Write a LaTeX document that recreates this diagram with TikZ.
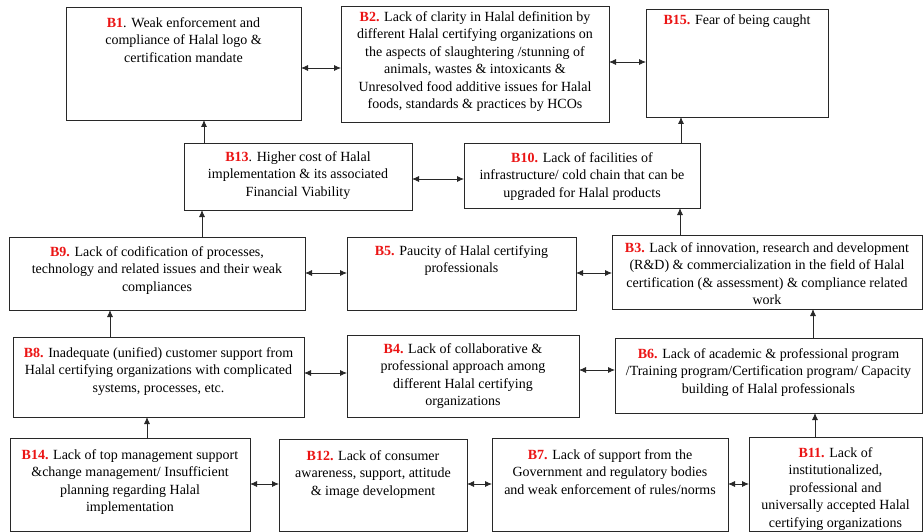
\documentclass[tikz,border=0pt]{standalone}
\usepackage{fontspec}
\setmainfont{Liberation Serif}
\usetikzlibrary{arrows.meta}
\definecolor{bred}{RGB}{235,20,20}
\definecolor{edge}{RGB}{40,40,40}
\newcommand\lb[1]{\textbf{\textcolor{bred}{#1}}}
% name, x1, y1, x2, y2, top kern, lines
\newcommand\hbx[7]{%
  \node[hbox, anchor=north west] (#1) at (#2,#3) {\vbox to \dimexpr#5pt-#3pt\relax{\kern#6pt\hbox to \dimexpr#4pt-#2pt\relax{\hss\begin{tabular}{@{}c@{}}#7\end{tabular}\hss}\vss}};}
\tikzset{
  hbox/.style={draw=edge, line width=0.8pt, inner sep=0pt, outer sep=0pt, fill=white,
    font=\fontsize{14}{17.5}\selectfont},
  link/.style={edge, line width=0.8pt, {Latex[length=7pt,width=6pt]}-{Latex[length=7pt,width=6pt]}},
  up/.style={edge, line width=0.8pt, -{Latex[length=7pt,width=6pt]}}
}
\begin{document}
\begin{tikzpicture}[x=1pt,y=-1pt]
\useasboundingbox[fill=white] (0,0) rectangle (924,532);
\hbx{B1}{66}{7}{301}{120}{8}{\lb{B1}. Weak enforcement and\\ compliance of Halal logo \&\\ certification mandate}
\hbx{B2}{341}{6}{609}{122}{3}{\lb{B2.} Lack of clarity in Halal definition by\\ different Halal certifying organizations on\\ the aspects of slaughtering /stunning of\\ animals, wastes \& intoxicants \&\\ Unresolved food additive issues for Halal\\ foods, standards \& practices by HCOs}
\hbx{B15}{646}{9}{828}{117}{3}{\lb{B15.} Fear of being caught}
\hbx{B13}{184}{143}{412}{210}{6}{\lb{B13}. Higher cost of Halal\\ implementation \& its associated\\ Financial Viability}
\hbx{B10}{464}{143}{700}{208}{7}{\lb{B10.} Lack of facilities of\\ infrastructure/ cold chain that can be\\ upgraded for Halal products}
\hbx{B9}{9}{237}{305}{310}{7}{\lb{B9.} Lack of codification of processes,\\ technology and related issues and their weak\\ compliances}
\hbx{B5}{347}{237}{576}{310}{6}{\lb{B5.} Paucity of Halal certifying\\ professionals}
\hbx{B3}{612}{235}{922}{309}{5}{\lb{B3.} Lack of innovation, research and development\\ (R\&D) \& commercialization in the field of Halal\\ certification (\& assessment) \& compliance related\\ work}
\hbx{B8}{13}{337}{304}{417}{8}{\lb{B8.} Inadequate (unified) customer support from\\ Halal certifying organizations with complicated\\ systems, processes, etc.}
\hbx{B4}{347}{335}{579}{417}{6}{\lb{B4.} Lack of collaborative \&\\ professional approach among\\ different Halal certifying\\ organizations}
\hbx{B6}{615}{338}{922}{413}{8}{\lb{B6.} Lack of academic \& professional program\\ /Training program/Certification program/ Capacity\\ building of Halal professionals}
\hbx{B14}{10}{438}{250}{531}{9}{\lb{B14.} Lack of top management support\\ \&change management/ Insufficient\\ planning regarding Halal\\ implementation}
\hbx{B12}{279}{439}{467}{531}{9}{\lb{B12.} Lack of consumer\\ awareness, support, attitude\\ \& image development}
\hbx{B7}{492}{438}{728}{531}{9}{\lb{B7.} Lack of support from the\\ Government and regulatory bodies\\ and weak enforcement of rules/norms}
\hbx{B11}{749}{437}{922}{531}{8}{\lb{B11.} Lack of\\ institutionalized,\\ professional and\\ universally accepted Halal\\ certifying organizations}
% horizontal links
\draw[link] (B1.east |- 0,68) -- (B2.west |- 0,68);
\draw[link] (B2.east |- 0,62) -- (B15.west |- 0,62);
\draw[link] (B13.east |- 0,179) -- (B10.west |- 0,179);
\draw[link] (B9.east |- 0,273) -- (B5.west |- 0,273);
\draw[link] (B5.east |- 0,273) -- (B3.west |- 0,273);
\draw[link] (B8.east |- 0,373) -- (B4.west |- 0,373);
\draw[link] (B4.east |- 0,370) -- (B6.west |- 0,370);
\draw[link] (B14.east |- 0,484) -- (B12.west |- 0,484);
\draw[link] (B12.east |- 0,484) -- (B7.west |- 0,484);
\draw[link] (B7.east |- 0,484) -- (B11.west |- 0,484);
% vertical links
\draw[up] (B13.north -| 204,0) -- (B1.south -| 204,0);
\draw[up] (B10.north -| 681,0) -- (B15.south -| 681,0);
\draw[up] (B9.north -| 202,0) -- (B13.south -| 202,0);
\draw[up] (B3.north -| 680,0) -- (B10.south -| 680,0);
\draw[up] (B8.north -| 110,0) -- (B9.south -| 110,0);
\draw[up] (B6.north -| 813,0) -- (B3.south -| 813,0);
\draw[up] (B14.north -| 147,0) -- (B8.south -| 147,0);
\draw[up] (B11.north -| 815,0) -- (B6.south -| 815,0);
\end{tikzpicture}
\end{document}
